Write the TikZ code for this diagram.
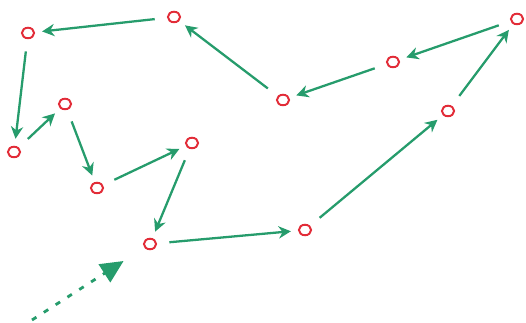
\documentclass[tikz,border=0pt]{standalone}
\usepackage{xcolor}
\usetikzlibrary{arrows.meta}
\definecolor{penGreen}{RGB}{38,156,108}
\definecolor{penRed}{RGB}{226,44,56}
\tikzset{
    spot/.style={draw=penRed, line width=1.1pt, ellipse, inner sep=0pt, minimum width=7pt, minimum height=6pt},
    hop/.style={penGreen, line width=1.3pt, -{Stealth[length=7pt, width=7pt]}, shorten <=7pt, shorten >=4pt},
}
\usetikzlibrary{shapes.geometric}
\begin{document}
\begin{tikzpicture}[x=0.02cm, y=-0.02cm]
    \useasboundingbox (0,0) rectangle (526,323);
    % points of the walk
    \node[spot] (a) at (150,244) {};
    \node[spot] (b) at (305,230) {};
    \node[spot] (c) at (448,111) {};
    \node[spot] (d) at (517,19) {};
    \node[spot] (e) at (393,62) {};
    \node[spot] (f) at (283,100) {};
    \node[spot] (g) at (174,17) {};
    \node[spot] (h) at (28,33) {};
    \node[spot] (i) at (14,152) {};
    \node[spot] (j) at (65,104) {};
    \node[spot] (k) at (97,188) {};
    \node[spot] (l) at (192,143) {};
    \coordinate (entry) at (32,320);
    % steps
    \foreach \p/\q in {a/b, b/c, c/d, d/e, e/f, f/g, g/h, h/i, i/j, j/k, k/l, l/a} {
        \draw[hop] (\p) -- (\q);
    }
    \draw[penGreen, line width=1.6pt, dash pattern=on 3pt off 5pt, -{Triangle[length=13pt, width=12pt]}, shorten >=14pt] (entry) -- (a);
\end{tikzpicture}
\end{document}
